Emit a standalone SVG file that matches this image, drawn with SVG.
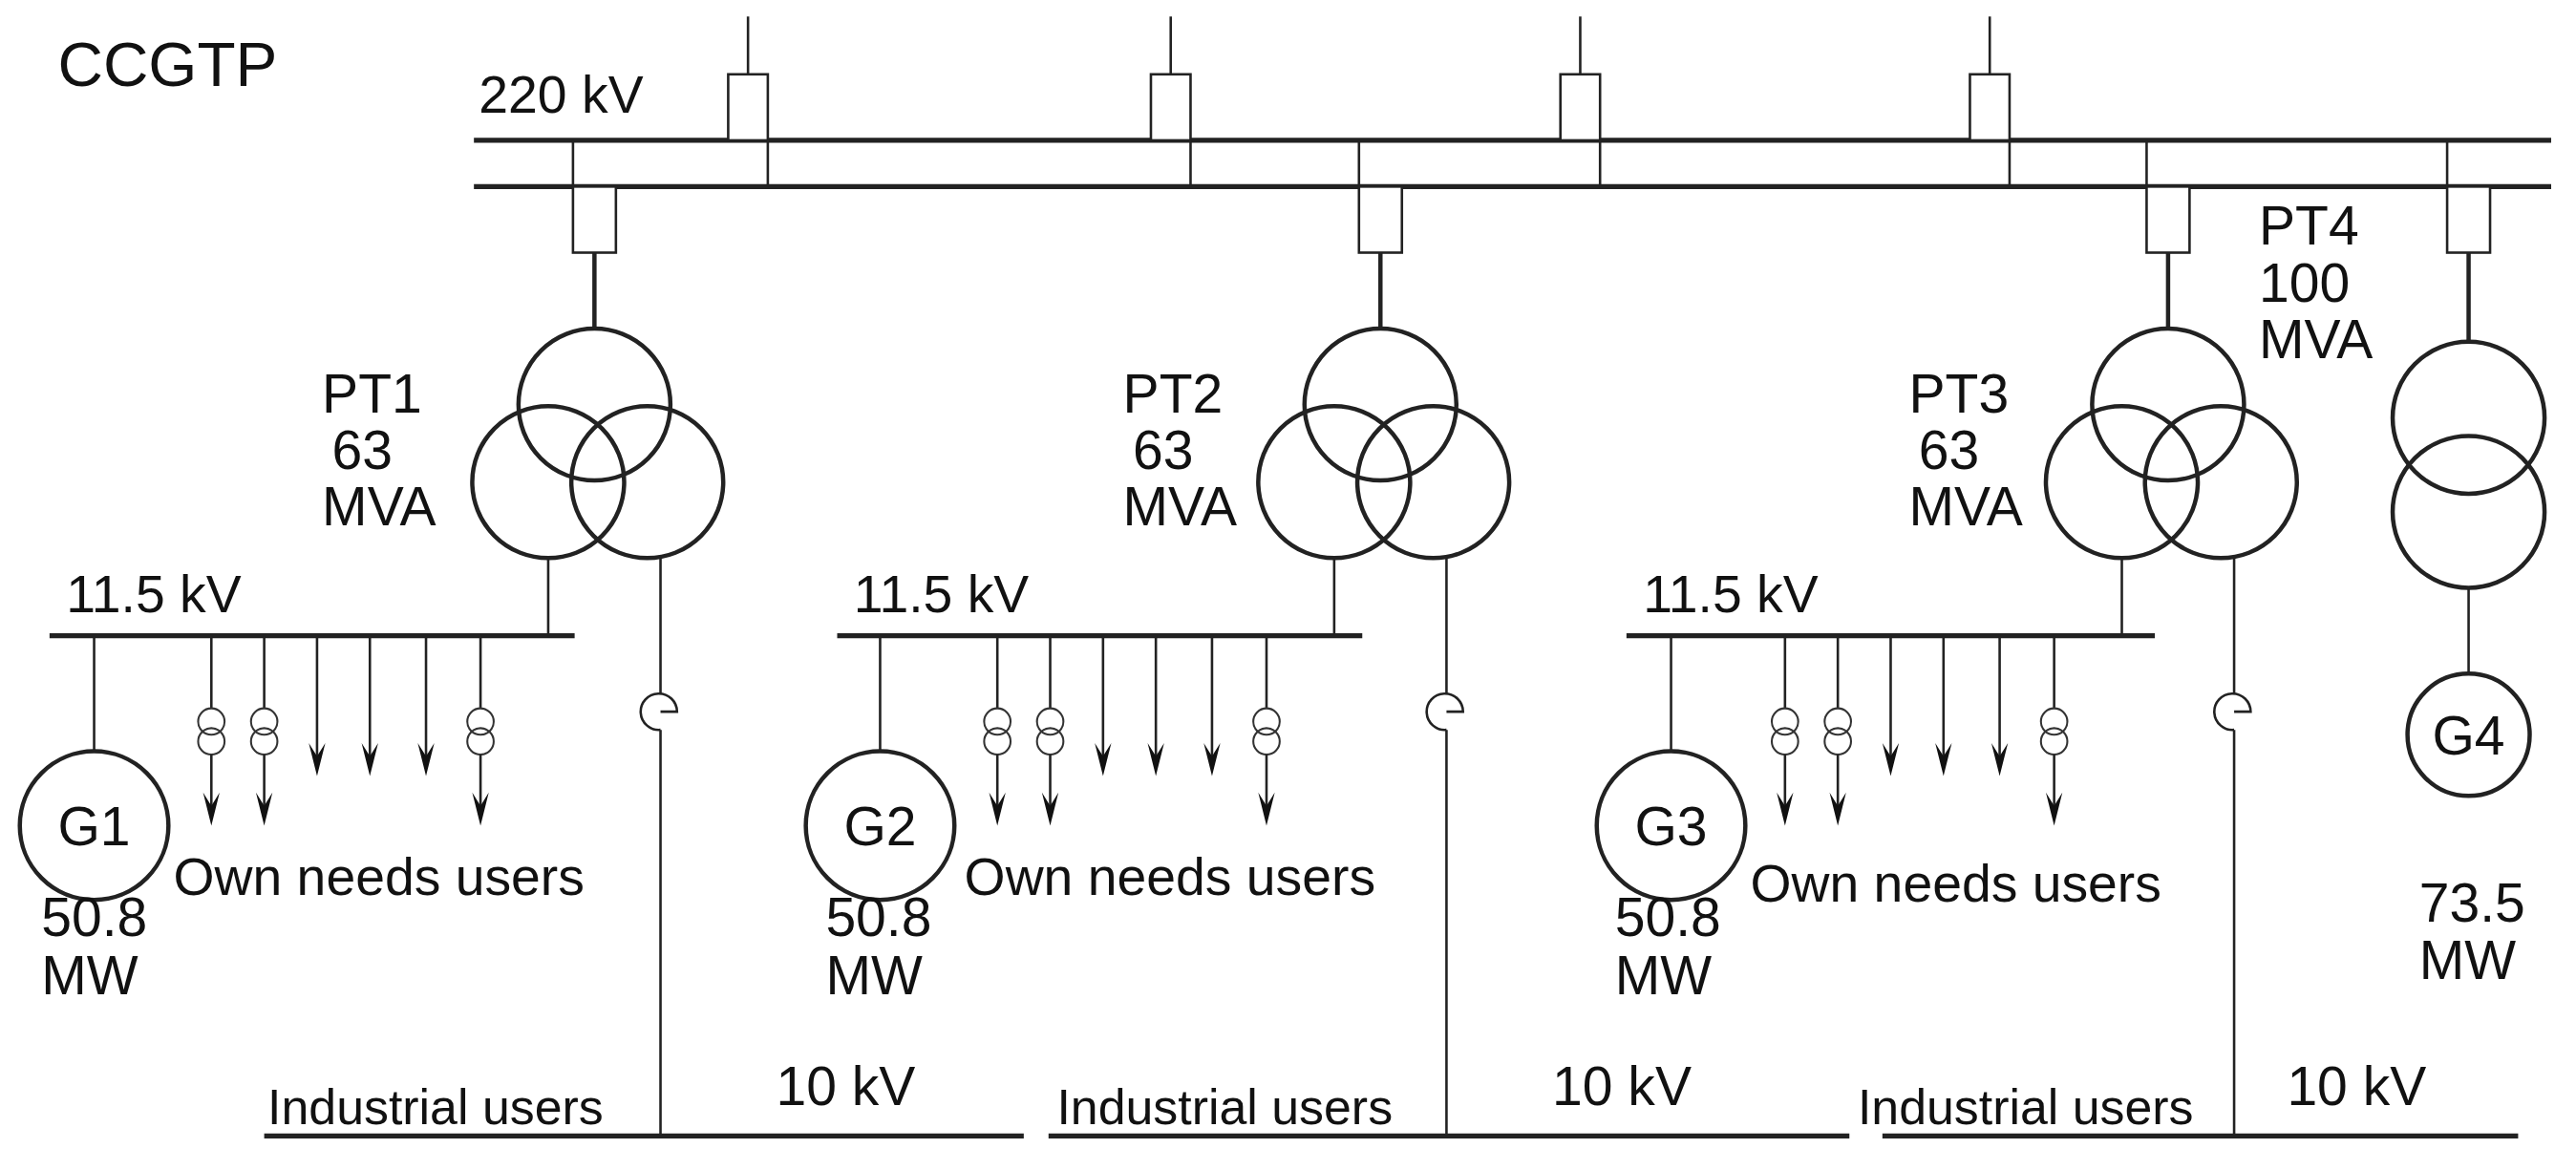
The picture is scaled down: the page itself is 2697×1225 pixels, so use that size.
<svg xmlns="http://www.w3.org/2000/svg" xmlns:xlink="http://www.w3.org/1999/xlink" width="2697" height="1225" viewBox="0 0 2697 1225">
<style>
.t{font-family:"Liberation Sans",Arial,sans-serif;fill:#111}
.bus{stroke:#222;stroke-width:3;fill:none}
.ln{stroke:#222;stroke-width:1.5;fill:none}
.c{stroke:#222;stroke-width:2.6;fill:none}
.sc{stroke:#333;stroke-width:1.2;fill:none}
.bx{stroke:#222;stroke-width:1.5;fill:#fff}
.p{font-size:33px}
</style>
<defs>
<path id="ah" d="M-5,-20 L0,0 L5,-20 L0,-12 Z" fill="#111"/>
<g id="tr3"><circle class="c" cx="0" cy="0" r="46"/><circle class="c" cx="-28" cy="47" r="46"/><circle class="c" cx="32" cy="47" r="46"/></g>
<g id="dtr"><circle class="sc" cx="0" cy="0" r="8"/><circle class="sc" cx="0" cy="12" r="8"/></g>
<g id="own">
<line class="ln" x1="128" y1="385" x2="128" y2="429"/><use xlink:href="#dtr" x="128" y="437"/><line class="ln" x1="128" y1="457" x2="128" y2="495"/><use xlink:href="#ah" x="128" y="500"/>
<line class="ln" x1="160" y1="385" x2="160" y2="429"/><use xlink:href="#dtr" x="160" y="437"/><line class="ln" x1="160" y1="457" x2="160" y2="495"/><use xlink:href="#ah" x="160" y="500"/>
<line class="ln" x1="192" y1="385" x2="192" y2="465"/><use xlink:href="#ah" x="192" y="470"/>
<line class="ln" x1="224" y1="385" x2="224" y2="465"/><use xlink:href="#ah" x="224" y="470"/>
<line class="ln" x1="258" y1="385" x2="258" y2="465"/><use xlink:href="#ah" x="258" y="470"/>
<line class="ln" x1="291" y1="385" x2="291" y2="429"/><use xlink:href="#dtr" x="291" y="437"/><line class="ln" x1="291" y1="457" x2="291" y2="495"/><use xlink:href="#ah" x="291" y="500"/>
</g>
<path id="hook" class="ln" d="M0,442 A11,11 0 1,1 10,431 L0,431"/>
</defs>
<g transform="scale(1.7288)">
<text class="t" x="35" y="52" font-size="38">CCGTP</text>
<g id="bus220">
<line class="bus" x1="287" y1="85" x2="1545" y2="85"/>
<line class="bus" x1="287" y1="113" x2="1545" y2="113"/>
<text class="t" x="290" y="68" font-size="32">220 kV</text>
</g>
<g id="feeders">
<line class="ln" x1="453" y1="10" x2="453" y2="45"/><rect class="bx" x="441" y="45" width="24" height="40"/><line class="ln" x1="465" y1="85" x2="465" y2="113"/>
<line class="ln" x1="709" y1="10" x2="709" y2="45"/><rect class="bx" x="697" y="45" width="24" height="40"/><line class="ln" x1="721" y1="85" x2="721" y2="113"/>
<line class="ln" x1="957" y1="10" x2="957" y2="45"/><rect class="bx" x="945" y="45" width="24" height="40"/><line class="ln" x1="969" y1="85" x2="969" y2="113"/>
<line class="ln" x1="1205" y1="10" x2="1205" y2="45"/><rect class="bx" x="1193" y="45" width="24" height="40"/><line class="ln" x1="1217" y1="85" x2="1217" y2="113"/>
</g>
<g id="connectors">
<line class="ln" x1="347" y1="85" x2="347" y2="113"/><rect class="bx" x="347" y="113" width="26" height="40"/><line class="c" x1="360" y1="153" x2="360" y2="199"/>
<line class="ln" x1="823" y1="85" x2="823" y2="113"/><rect class="bx" x="823" y="113" width="26" height="40"/><line class="c" x1="836" y1="153" x2="836" y2="199"/>
<line class="ln" x1="1300" y1="85" x2="1300" y2="113"/><rect class="bx" x="1300" y="113" width="26" height="40"/><line class="c" x1="1313" y1="153" x2="1313" y2="199"/>
<line class="ln" x1="1482" y1="85" x2="1482" y2="113"/><rect class="bx" x="1482" y="113" width="26" height="40"/><line class="c" x1="1495" y1="153" x2="1495" y2="207"/>
<line class="ln" x1="332" y1="338" x2="332" y2="385"/><line class="ln" x1="808" y1="338" x2="808" y2="385"/><line class="ln" x1="1285" y1="338" x2="1285" y2="385"/>
<line class="ln" x1="400" y1="338" x2="400" y2="420"/><line class="ln" x1="400" y1="442" x2="400" y2="688"/>
<line class="ln" x1="876" y1="338" x2="876" y2="420"/><line class="ln" x1="876" y1="442" x2="876" y2="688"/>
<line class="ln" x1="1353" y1="338" x2="1353" y2="420"/><line class="ln" x1="1353" y1="442" x2="1353" y2="688"/>
<line class="ln" x1="57" y1="385" x2="57" y2="455"/><line class="ln" x1="533" y1="385" x2="533" y2="455"/><line class="ln" x1="1012" y1="385" x2="1012" y2="455"/>
<line class="ln" x1="1495" y1="356" x2="1495" y2="408"/>
<use xlink:href="#hook" x="400" y="0"/><use xlink:href="#hook" x="876" y="0"/><use xlink:href="#hook" x="1353" y="0"/>
</g>
<g id="PT1"><use xlink:href="#tr3" x="360" y="245"/><text class="t p" x="195" y="250">PT1</text><text class="t p" x="201" y="284">63</text><text class="t p" x="195" y="318">MVA</text></g>
<g id="PT2"><use xlink:href="#tr3" x="836" y="245"/><text class="t p" x="680" y="250">PT2</text><text class="t p" x="686" y="284">63</text><text class="t p" x="680" y="318">MVA</text></g>
<g id="PT3"><use xlink:href="#tr3" x="1313" y="245"/><text class="t p" x="1156" y="250">PT3</text><text class="t p" x="1162" y="284">63</text><text class="t p" x="1156" y="318">MVA</text></g>
<g id="PT4"><circle class="c" cx="1495" cy="253" r="46"/><circle class="c" cx="1495" cy="310" r="46"/><text class="t p" x="1368" y="148">PT4</text><text class="t p" x="1368" y="183">100</text><text class="t p" x="1368" y="217">MVA</text></g>
<g id="bus115_1"><line class="bus" x1="30" y1="385" x2="348" y2="385"/><text class="t" font-size="32" x="40" y="371">11.5 kV</text><use xlink:href="#own"/><text class="t" font-size="32" x="105" y="542">Own needs users</text></g>
<g id="bus115_2"><line class="bus" x1="507" y1="385" x2="825" y2="385"/><text class="t" font-size="32" x="517" y="371">11.5 kV</text><use xlink:href="#own" x="476"/><text class="t" font-size="32" x="584" y="542">Own needs users</text></g>
<g id="bus115_3"><line class="bus" x1="985" y1="385" x2="1305" y2="385"/><text class="t" font-size="32" x="995" y="371">11.5 kV</text><use xlink:href="#own" x="953"/><text class="t" font-size="32" x="1060" y="546">Own needs users</text></g>
<g id="G1"><circle class="c" cx="57" cy="500" r="45"/><text class="t p" x="57" y="512" text-anchor="middle">G1</text><text class="t p" x="25" y="567">50.8</text><text class="t p" x="25" y="602">MW</text></g>
<g id="G2"><circle class="c" cx="533" cy="500" r="45"/><text class="t p" x="533" y="512" text-anchor="middle">G2</text><text class="t p" x="500" y="567">50.8</text><text class="t p" x="500" y="602">MW</text></g>
<g id="G3"><circle class="c" cx="1012" cy="500" r="45"/><text class="t p" x="1012" y="512" text-anchor="middle">G3</text><text class="t p" x="978" y="567">50.8</text><text class="t p" x="978" y="602">MW</text></g>
<g id="G4"><circle class="c" cx="1495" cy="445" r="37"/><text class="t p" x="1495" y="457" text-anchor="middle">G4</text><text class="t p" x="1465" y="558">73.5</text><text class="t p" x="1465" y="593">MW</text></g>
<g id="bus10_1"><line class="bus" x1="160" y1="688" x2="620" y2="688"/><text class="t" font-size="30" x="162" y="681">Industrial users</text><text class="t" font-size="33" x="470" y="669">10 kV</text></g>
<g id="bus10_2"><line class="bus" x1="635" y1="688" x2="1120" y2="688"/><text class="t" font-size="30" x="640" y="681">Industrial users</text><text class="t" font-size="33" x="940" y="669">10 kV</text></g>
<g id="bus10_3"><line class="bus" x1="1140" y1="688" x2="1525" y2="688"/><text class="t" font-size="30" x="1125" y="681">Industrial users</text><text class="t" font-size="33" x="1385" y="669">10 kV</text></g>
</g>
</svg>
